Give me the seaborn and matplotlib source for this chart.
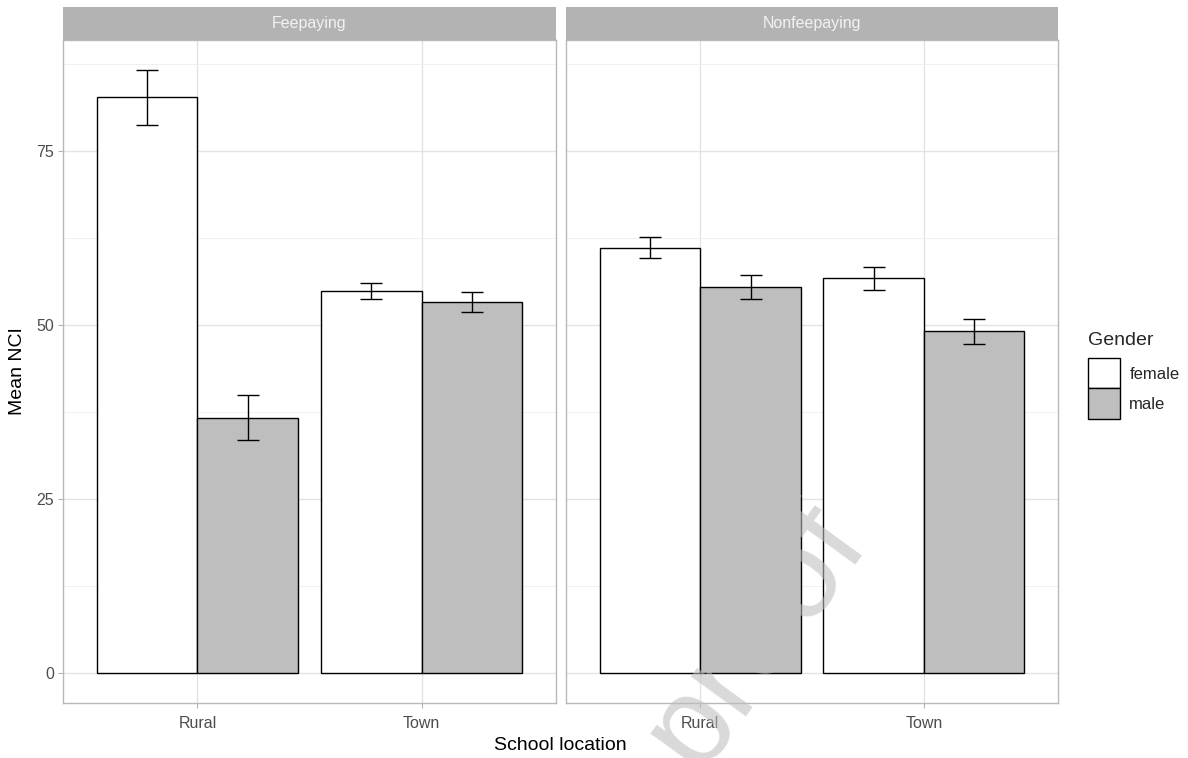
import matplotlib
matplotlib.use("Agg")
import matplotlib.pyplot as plt
import seaborn as sns
import pandas as pd

# ---- data ----
school_types = ["Feepaying", "Nonfeepaying"]
locations = ["Rural", "Town"]
genders = ["female", "male"]

# mean NCI, ordered school type -> location -> gender
fee_means = [82.7, 36.7, 54.9, 53.3]
nonfee_means = [61.1, 55.5, 56.7, 49.1]
# standard errors in the same order
fee_se = [3.9, 3.2, 1.1, 1.4]
nonfee_se = [1.5, 1.7, 1.6, 1.8]

y_ticks = [0, 25, 50, 75]

rows = []
for stype, means, ses in [("Feepaying", fee_means, fee_se),
                          ("Nonfeepaying", nonfee_means, nonfee_se)]:
    k = 0
    for loc in locations:
        for g in genders:
            rows.append(dict(school=stype, location=loc, gender=g,
                             mean=means[k], se=ses[k]))
            k += 1
df = pd.DataFrame(rows)

# ---- style ----
sns.set_theme(style="white")
plt.rcParams["font.family"] = ["Liberation Sans", "DejaVu Sans"]

W, H = 1188, 758
fig = plt.figure(figsize=(W / 100, H / 100), dpi=100)

palette = {"female": "#ffffff", "male": "#bebebe"}
panel_x = [(63, 556), (566, 1058)]
panel_top, panel_bottom = 40, 703
strip_top = 7

handles, labels = None, None
for i, stype in enumerate(school_types):
    x0, x1 = panel_x[i]
    ax = fig.add_axes([x0 / W, 1 - panel_bottom / H, (x1 - x0) / W,
                       (panel_bottom - panel_top) / H])
    sub = df[df.school == stype]
    sns.barplot(data=sub, x="location", y="mean", hue="gender",
                order=locations, hue_order=genders, palette=palette,
                edgecolor="black", linewidth=1.0, width=0.9,
                errorbar=None, ax=ax, zorder=3)
    # error bars from the bar containers (one per gender)
    bar_containers = list(ax.containers)
    for gi, cont in enumerate(bar_containers):
        g = genders[gi]
        for li, bar in enumerate(cont):
            row = sub[(sub.gender == g) & (sub.location == locations[li])].iloc[0]
            xc = bar.get_x() + bar.get_width() / 2
            ax.errorbar(xc, row["mean"], yerr=row["se"], fmt="none",
                        ecolor="black", elinewidth=1.0, capsize=7.9,
                        capthick=1.0, zorder=4)
    if handles is None:
        handles, labels = ax.get_legend_handles_labels()
    if ax.get_legend() is not None:
        ax.get_legend().remove()

    ax.set_xlim(-0.6, 1.6)
    ax.set_ylim(-4.31, 90.95)
    ax.set_yticks(y_ticks)
    ax.set_yticks([12.5, 37.5, 62.5, 87.5], minor=True)
    ax.grid(True, which="major", color="#e3e3e3", linewidth=1.0, zorder=0)
    ax.grid(True, which="minor", axis="y", color="#eeeeee", linewidth=0.6, zorder=0)
    ax.set_axisbelow(True)
    ax.set_xlabel("")
    ax.set_ylabel("")
    for s in ax.spines.values():
        s.set_color("#b8b8b8")
        s.set_linewidth(1.0)
    ax.tick_params(axis="both", which="major", length=3.5, width=0.8,
                   color="#b3b3b3", labelsize=11.5, labelcolor="#4d4d4d",
                   bottom=True, left=(i == 0))
    ax.tick_params(axis="x", which="major", pad=6)
    ax.tick_params(axis="y", which="major", pad=3)
    ax.tick_params(axis="both", which="minor", length=0)
    if i == 1:
        ax.set_yticklabels([])

    # facet strip
    sax = fig.add_axes([x0 / W, 1 - panel_top / H, (x1 - x0) / W,
                        (panel_top - strip_top) / H])
    sax.set_facecolor("#b3b3b3")
    sax.set_xticks([])
    sax.set_yticks([])
    for s in sax.spines.values():
        s.set_visible(False)
    sax.text(0.5, 0.5, stype, ha="center", va="center", color="#f2f2f2",
             fontsize=11.5, transform=sax.transAxes)

# axis titles
fig.text(560 / W, 1 - 745 / H, "School location", ha="center", va="center",
         fontsize=14, color="black")
fig.text(18 / W, 1 - 371 / H, "Mean NCI", ha="center", va="center",
         rotation=90, fontsize=14, color="black")

# legend
leg = fig.legend(handles, labels, loc="upper left",
                 bbox_to_anchor=(1086 / W, 1 - 330 / H), title="Gender",
                 frameon=False, handlelength=1.95, handleheight=2.4,
                 handletextpad=0.55, labelspacing=0.0, fontsize=12,
                 title_fontsize=14, borderaxespad=0, borderpad=0.1)
leg._legend_box.align = "left"
leg._legend_box.sep = 7

# watermark
fig.text(756 / W, 1 - 636 / H, "proof", ha="center", va="center",
         rotation=54, fontsize=92, color="#bebebe", alpha=0.58, zorder=10)

fig.savefig("out.png", dpi=100)
